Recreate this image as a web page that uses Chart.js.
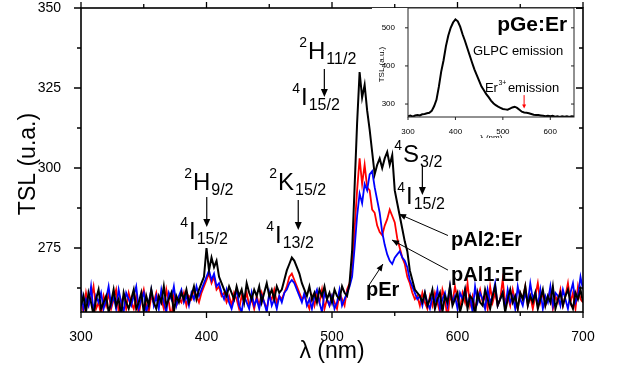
<!DOCTYPE html>
<html>
<head>
<meta charset="utf-8">
<script src="https://cdn.jsdelivr.net/npm/chart.js@4"></script>
<style>
  body { margin: 0; background: #fff; }
  #wrap { position: relative; width: 617px; height: 372px; }
  #main { position: absolute; left: 0; top: 0; }
  #inset { position: absolute; left: 372px; top: 8px; background: #fff; }
</style>
</head>
<body>
<div id="wrap">
  <canvas id="main" width="617" height="372"></canvas>
  <canvas id="inset" width="204" height="130"></canvas>
</div>
<script>
// ---- main spectra (TSL, u.a.) ----
const wavelengths = [
  300,302,304,306,308,310,312,314,316,318, 320,322,324,326,328,330,332,334,336,338,
  340,342,344,346,348,350,352,354,356,358, 360,362,364,366,368,370,372,374,376,378,
  380,382,384,386,388,390,392,394,396,398, 400,402,404,406,408,410,412,414,416,418,
  420,422,424,426,428,430,432,434,436,438, 440,442,444,446,448,450,452,454,456,458,
  460,462,464,466,468,470,472,474,476,478, 480,482,484,486,488,490,492,494,496,498,
  500,502,504,506,508,510,512,514,516,518, 520,522,524,526,528,530,532,534,536,538,
  540,542,544,546,548,550,552,554,556,558, 560,562,564,566,568,570,572,574,576,578,
  580,582,584,586,588,590,592,594,596,598, 600,602,604,606,608,610,612,614,616,618,
  620,622,624,626,628,630,632,634,636,638, 640,642,644,646,648,650,652,654,656,658,
  660,662,664,666,668,670,672,674,676,678, 680,682,684,686,688,690,692,694,696,698,
  700
];
const pAl2Er = [
  257,260,255,261,258,254,259,262,256,258, 260,255,258,262,257,259,254,261,258,256,
  259,262,256,258,261,255,260,257,262,258, 256,260,258,263,257,259,261,255,260,258,
  261,259,262,258,260,263,259,262,264,266, 275,268,272,269,271,266,264,262,260,263,
  261,259,263,260,262,258,264,261,259,262, 260,263,258,261,264,260,262,259,263,261,
  262,265,268,270,272,271,269,267,264,262, 260,263,259,261,258,262,260,263,259,261,
  258,262,260,259,263,261,260,264,274,294, 314,330,322,326,318,312,305,298,301,303,
  300,303,305,301,304,293,289,285,281,277, 274,268,265,262,261,260,258,261,257,259,
  262,256,259,261,255,260,258,263,257,259, 261,255,258,262,256,260,259,254,261,258,
  257,262,259,256,260,263,257,259,261,255, 259,262,258,260,256,261,259,263,257,260,
  258,261,256,259,262,257,260,258,263,256, 259,261,257,260,262,258,256,261,259,262,
  258
];
const pAl1Er = [
  258,255,261,257,259,263,256,258,254,260, 257,261,256,259,262,255,258,260,256,261,
  258,256,260,254,259,262,257,255,260,258, 261,257,259,256,262,258,253,260,257,259,
  258,261,257,260,259,262,260,258,261,263, 265,267,264,266,262,263,260,261,258,260,
  257,261,259,256,260,258,261,257,259,256, 260,257,261,258,256,260,259,262,258,260,
  259,261,263,266,267,265,263,261,259,260, 258,256,260,257,261,258,262,256,259,257,
  260,258,256,261,259,257,262,264,268,281, 293,303,295,301,294,293,287,286,282,280,
  279,282,284,287,285,283,278,275,272,270, 266,264,261,259,260,257,261,258,256,260,
  257,261,258,255,262,259,253,260,258,263, 259,256,261,258,264,257,260,256,259,262,
  258,260,256,263,258,261,257,259,265,258, 260,257,262,258,256,261,259,263,257,260,
  256,260,264,258,261,257,259,262,256,260, 258,262,257,260,264,258,261,256,263,259,
  258
];
const pEr = [
  262,256,259,257,263,255,260,258,261,256, 259,263,257,260,256,262,258,255,261,259,
  257,260,263,256,259,261,255,258,262,257, 260,256,262,258,255,261,259,263,257,260,
  262,258,260,257,261,259,263,260,262,264, 266,268,265,267,263,264,261,259,262,258,
  256,259,262,257,255,260,258,256,261,257, 259,256,260,258,255,261,257,259,256,260,
  258,261,262,264,265,264,262,260,258,261, 257,259,256,260,262,258,255,261,259,257,
  260,256,258,262,257,259,261,263,266,275, 285,292,289,295,293,298,299,294,290,286,
  280,276,273,271,270,272,273,274,272,271, 269,265,263,261,259,260,257,261,258,256,
  260,258,262,256,259,261,257,263,258,260, 256,261,259,262,257,260,255,263,258,261,
  259,256,262,258,260,264,257,259,261,256, 262,258,260,256,263,259,257,261,258,264,
  259,261,257,262,256,260,258,263,257,261, 260,257,262,259,256,261,264,258,260,266,
  262
];
const xTicks = [300, 400, 500, 600, 700];
const xMinor = [350, 450, 550, 650];
const yTicks = [275, 300, 325, 350];
const yMinor = [262.5, 287.5, 312.5, 337.5];

// ---- inset: pGe:Er ----
const insetWavelengths = [
  300,305,310,315,320,325,330,335,340,345, 350,355,360,365,370,375,380,385,390,395,
  400,405,410,415,420,425,430,435,440,445, 450,455,460,465,470,475,480,485,490,495,
  500,505,510,515,520,525,530,535,540,545, 550,555,560,565,570,575,580,585,590,595,
  600,605,610,615,620,625,630,635,640,645, 650
];
const pGeEr = [
  268,270,267,270,271,270,273,274,276,277, 282,294,311,345,385,415,452,480,500,514,
  522,517,503,483,466,447,428,409,391,376, 361,346,336,326,318,309,302,297,293,290,
  287,286,285,288,291,293,290,285,280,278, 277,276,274,272,271,271,270,269,268,269,
  268,269,267,268,266,268,267,268,266,268, 267
];
const insetXTicks = [300, 400, 500, 600];
const insetYTicks = [300, 400, 500];

// annotations, in data coordinates
const termLabels = [
  { x: 389.2, y: 293.1, sup: "2", main: "H", sub: "9/2" },
  { x: 386.1, y: 277.8, sup: "4", main: "I", sub: "15/2" },
  { x: 457.0, y: 293.1, sup: "2", main: "K", sub: "15/2" },
  { x: 454.6, y: 276.6, sup: "4", main: "I", sub: "13/2" },
  { x: 480.9, y: 334.1, sup: "2", main: "H", sub: "11/2" },
  { x: 475.3, y: 319.7, sup: "4", main: "I", sub: "15/2" },
  { x: 556.6, y: 301.9, sup: "4", main: "S", sub: "3/2" },
  { x: 559.0, y: 288.75, sup: "4", main: "I", sub: "15/2" }
];
const levelArrows = [
  { x: 400.2, from: 290.9, to: 281.6 },
  { x: 473.1, from: 290.0, to: 280.6 },
  { x: 493.9, from: 330.9, to: 322.2 },
  { x: 572.0, from: 300.9, to: 291.6 }
];
const sampleLabels = [
  { text: "pAl2:Er", x: 594.8, y: 275.6, ax: 592.4, ay: 278.9, bx: 553.4, by: 285.6 },
  { text: "pAl1:Er", x: 594.8, y: 264.7, ax: 592.4, ay: 268.1, bx: 547.8, by: 277.5 },
  { text: "pEr", x: 527.1, y: 260.0, ax: 529.5, ay: 263.4, bx: 540.6, by: 270.0 }
];

const FONT = '"Liberation Sans", Arial, sans-serif';

function arrowHead(ctx, x0, y0, x1, y1, len, half) {
  const ang = Math.atan2(y1 - y0, x1 - x0);
  ctx.beginPath();
  ctx.moveTo(x1, y1);
  ctx.lineTo(x1 - len * Math.cos(ang) + half * Math.sin(ang), y1 - len * Math.sin(ang) - half * Math.cos(ang));
  ctx.lineTo(x1 - len * Math.cos(ang) - half * Math.sin(ang), y1 - len * Math.sin(ang) + half * Math.cos(ang));
  ctx.closePath();
  ctx.fill();
}

function drawTerm(ctx, px, py, t) {
  ctx.textBaseline = "alphabetic";
  ctx.font = "24px " + FONT;
  ctx.textAlign = "left";
  ctx.fillText(t.main, px, py);
  const w = ctx.measureText(t.main).width;
  ctx.font = "14px " + FONT;
  ctx.textAlign = "right";
  ctx.fillText(t.sup, px - 1, py - 12);
  ctx.font = "16px " + FONT;
  ctx.textAlign = "left";
  ctx.fillText(t.sub, px + w + 1, py + 5);
}

const mainDecor = {
  id: "mainDecor",
  afterDatasetsDraw(chart) {
    const { ctx, chartArea: a, scales: { x, y } } = chart;
    ctx.save();
    ctx.strokeStyle = "#000";
    ctx.fillStyle = "#000";
    ctx.lineWidth = 1.6;
    ctx.strokeRect(a.left, a.top, a.right - a.left, a.bottom - a.top);
    ctx.lineWidth = 1.3;
    ctx.beginPath();
    const tickX = (v, len) => {
      const p = x.getPixelForValue(v);
      ctx.moveTo(p, a.bottom); ctx.lineTo(p, a.bottom + len);
      ctx.moveTo(p, a.top); ctx.lineTo(p, a.top - len);
    };
    const tickY = (v, len) => {
      const p = y.getPixelForValue(v);
      ctx.moveTo(a.left, p); ctx.lineTo(a.left - len, p);
      ctx.moveTo(a.right, p); ctx.lineTo(a.right - len, p);
    };
    xTicks.forEach(v => tickX(v, 6));
    xMinor.forEach(v => tickX(v, 4));
    yTicks.forEach(v => tickY(v, 7));
    yMinor.forEach(v => tickY(v, 4));
    ctx.stroke();

    // axis titles
    ctx.font = "23px " + FONT;
    ctx.textAlign = "center";
    ctx.textBaseline = "middle";
    ctx.fillText("\u03bb (nm)", (a.left + a.right) / 2, 352);
    ctx.save();
    ctx.translate(29, (a.top + a.bottom) / 2 + 4);
    ctx.rotate(-Math.PI / 2);
    ctx.fillText("TSL (u.a.)", 0, 0);
    ctx.restore();

    // transitions
    termLabels.forEach(t => drawTerm(ctx, x.getPixelForValue(t.x), y.getPixelForValue(t.y), t));
    ctx.lineWidth = 1.2;
    levelArrows.forEach(ar => {
      const px = x.getPixelForValue(ar.x);
      const p0 = y.getPixelForValue(ar.from), p1 = y.getPixelForValue(ar.to);
      ctx.beginPath(); ctx.moveTo(px, p0); ctx.lineTo(px, p1 - 6); ctx.stroke();
      arrowHead(ctx, px, p0, px, p1, 8, 3.5);
    });

    // sample labels with pointers
    ctx.font = "bold 20px " + FONT;
    ctx.textAlign = "left";
    ctx.textBaseline = "alphabetic";
    sampleLabels.forEach(s => {
      ctx.fillText(s.text, x.getPixelForValue(s.x), y.getPixelForValue(s.y));
      const x0 = x.getPixelForValue(s.ax), y0 = y.getPixelForValue(s.ay);
      const x1 = x.getPixelForValue(s.bx), y1 = y.getPixelForValue(s.by);
      ctx.lineWidth = 1;
      ctx.beginPath(); ctx.moveTo(x0, y0); ctx.lineTo(x1, y1); ctx.stroke();
      arrowHead(ctx, x0, y0, x1, y1, 7, 3);
    });
    ctx.restore();
  }
};

const pts = ys => wavelengths.map((w, i) => ({ x: w, y: ys[i] }));

new Chart(document.getElementById("main"), {
  type: "line",
  data: {
    datasets: [
      { label: "pAl2:Er", data: pts(pAl2Er), borderColor: "#000000", borderWidth: 2, order: 1 },
      { label: "pEr", data: pts(pEr), borderColor: "#0000ff", borderWidth: 1.8, order: 2 },
      { label: "pAl1:Er", data: pts(pAl1Er), borderColor: "#ff0000", borderWidth: 1.8, order: 3 }
    ]
  },
  options: {
    responsive: false,
    devicePixelRatio: 1,
    animation: false,
    elements: { point: { radius: 0 }, line: { tension: 0, borderJoinStyle: "miter" } },
    layout: { padding: { top: 8, right: 34, left: 0, bottom: 0 } },
    plugins: { legend: { display: false }, tooltip: { enabled: false } },
    scales: {
      x: {
        type: "linear", min: 300, max: 700,
        grid: { display: false }, border: { display: false },
        ticks: { color: "#000", font: { family: FONT, size: 14 }, padding: 9, maxRotation: 0 },
        afterBuildTicks: s => { s.ticks = xTicks.map(v => ({ value: v })); },
        afterFit: s => { s.height = 60; s.paddingLeft = 0; s.paddingRight = 0; }
      },
      y: {
        type: "linear", min: 255, max: 350,
        grid: { display: false }, border: { display: false },
        ticks: { color: "#000", font: { family: FONT, size: 14 }, padding: 12 },
        afterBuildTicks: s => { s.ticks = yTicks.map(v => ({ value: v })); },
        afterFit: s => { s.width = 81; s.paddingTop = 0; s.paddingBottom = 0; }
      }
    }
  },
  plugins: [mainDecor]
});

// ---- inset chart ----
const insetDecor = {
  id: "insetDecor",
  afterDatasetsDraw(chart) {
    const { ctx, chartArea: a, scales: { x, y } } = chart;
    ctx.save();
    ctx.strokeStyle = "#222";
    ctx.fillStyle = "#000";
    ctx.lineWidth = 1;
    ctx.strokeRect(a.left, a.top, a.right - a.left, a.bottom - a.top);
    ctx.beginPath();
    insetXTicks.forEach(v => {
      const p = x.getPixelForValue(v);
      ctx.moveTo(p, a.bottom); ctx.lineTo(p, a.bottom + 3);
    });
    insetYTicks.forEach(v => {
      const p = y.getPixelForValue(v);
      ctx.moveTo(a.left, p); ctx.lineTo(a.left - 3, p);
      ctx.moveTo(a.right, p); ctx.lineTo(a.right - 3, p);
    });
    ctx.stroke();

    ctx.font = "8px " + FONT;
    ctx.textAlign = "center";
    ctx.textBaseline = "middle";
    ctx.fillText("\u03bb (nm)", (a.left + a.right) / 2, 130);
    ctx.save();
    ctx.translate(10, (a.top + a.bottom) / 2 + 2);
    ctx.rotate(-Math.PI / 2);
    ctx.fillText("TSL (a.u.)", 0, 0);
    ctx.restore();

    ctx.textAlign = "left";
    ctx.textBaseline = "alphabetic";
    ctx.font = "bold 21px " + FONT;
    ctx.fillText("pGe:Er", x.getPixelForValue(488), y.getPixelForValue(490.9));
    ctx.font = "13px " + FONT;
    ctx.fillText("GLPC emission", x.getPixelForValue(436.8), y.getPixelForValue(428.1));
    const ex = x.getPixelForValue(462.1), ey = y.getPixelForValue(332.5);
    ctx.fillText("Er", ex, ey);
    const ew = ctx.measureText("Er").width;
    ctx.font = "7px " + FONT;
    ctx.fillText("3+", ex + ew + 0.5, ey - 7);
    ctx.font = "13px " + FONT;
    ctx.fillText("emission", ex + ew + 10, ey);

    const rx = x.getPixelForValue(544.8);
    const r0 = y.getPixelForValue(323.4), r1 = y.getPixelForValue(288.6);
    ctx.strokeStyle = "#ff0000"; ctx.fillStyle = "#ff0000";
    ctx.beginPath(); ctx.moveTo(rx, r0); ctx.lineTo(rx, r1 - 3); ctx.stroke();
    arrowHead(ctx, rx, r0, rx, r1, 4, 2);
    ctx.restore();
  }
};

new Chart(document.getElementById("inset"), {
  type: "line",
  data: {
    datasets: [{
      label: "pGe:Er",
      data: insetWavelengths.map((w, i) => ({ x: w, y: pGeEr[i] })),
      borderColor: "#000", borderWidth: 2
    }]
  },
  options: {
    responsive: false,
    devicePixelRatio: 1,
    animation: false,
    elements: { point: { radius: 0 }, line: { tension: 0 } },
    layout: { padding: { top: 0, right: 2, left: 0, bottom: 0 } },
    plugins: { legend: { display: false }, tooltip: { enabled: false } },
    scales: {
      x: {
        type: "linear", min: 300, max: 650,
        grid: { display: false }, border: { display: false },
        ticks: { color: "#000", font: { family: FONT, size: 8 }, padding: 2, maxRotation: 0 },
        afterBuildTicks: s => { s.ticks = insetXTicks.map(v => ({ value: v })); },
        afterFit: s => { s.height = 21; s.paddingLeft = 0; s.paddingRight = 0; }
      },
      y: {
        type: "linear", min: 266, max: 552,
        grid: { display: false }, border: { display: false },
        ticks: { color: "#000", font: { family: FONT, size: 8 }, padding: 5 },
        afterBuildTicks: s => { s.ticks = insetYTicks.map(v => ({ value: v })); },
        afterFit: s => { s.width = 36; s.paddingTop = 0; s.paddingBottom = 0; }
      }
    }
  },
  plugins: [insetDecor]
});
</script>
</body>
</html>
